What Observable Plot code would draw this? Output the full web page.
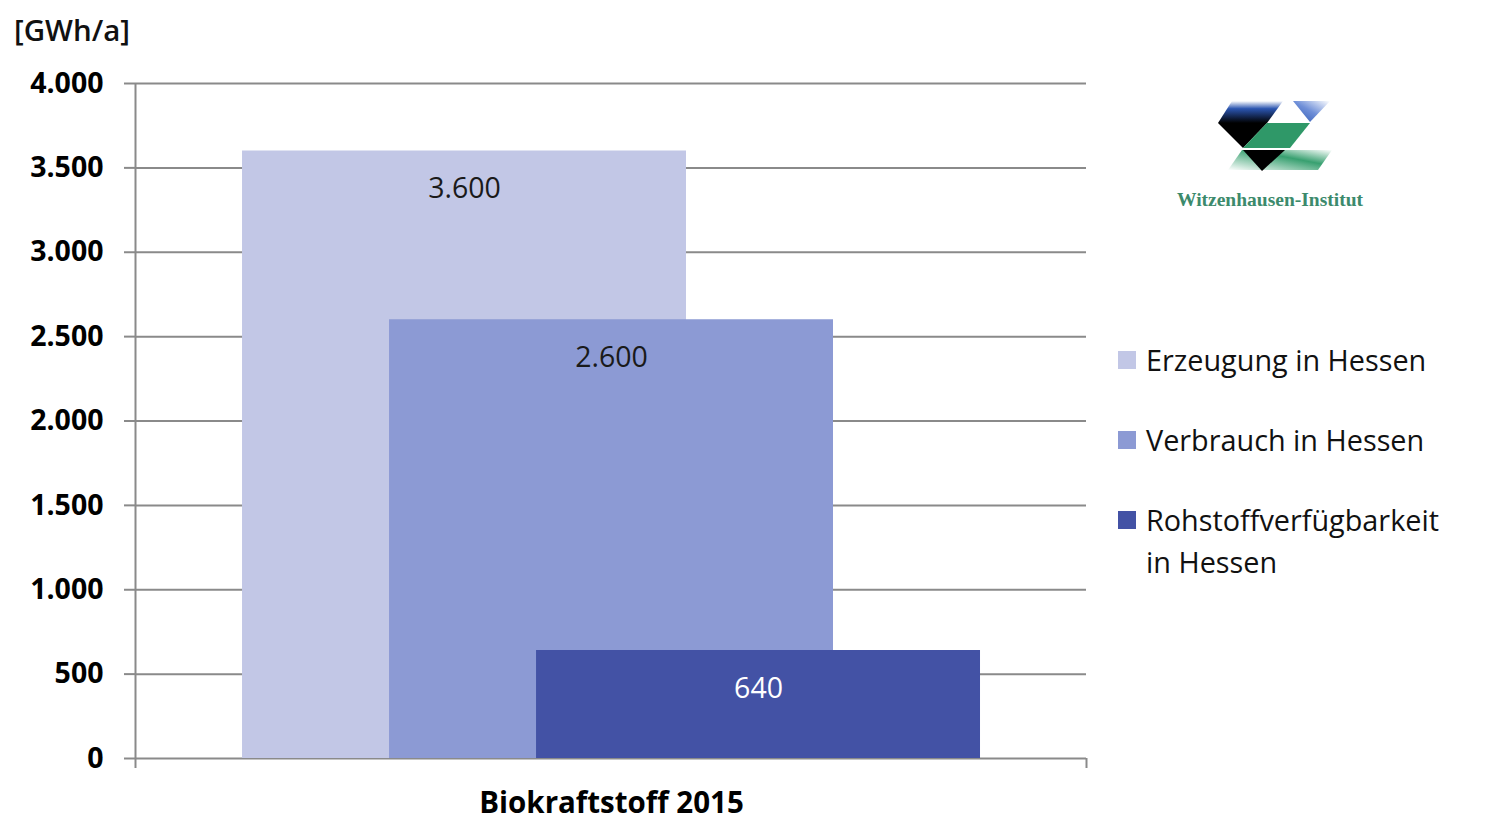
<!DOCTYPE html>
<html>
<head>
<meta charset="utf-8">
<script src="https://cdn.jsdelivr.net/npm/d3@7"></script>
<script src="https://cdn.jsdelivr.net/npm/@observablehq/plot@0.6"></script>
<style>
  html, body { margin: 0; padding: 0; background: #fff; }
  #wrap { position: relative; width: 1488px; height: 834px; overflow: hidden; font-family: "Open Sans", Lato, sans-serif; }
  #unit { position: absolute; left: 14px; top: 10px; font-size: 29.5px; color: #111; font-weight: 600; line-height: 40px; }
  #legend { position: absolute; left: 1118px; top: 339px; font-size: 28.8px; color: #111; }
  .li { position: relative; padding-left: 28px; line-height: 42px; }
  .sw { position: absolute; left: 0; top: 12px; width: 18px; height: 18px; }
  #logo { position: absolute; left: 1160px; top: 90px; }
</style>
</head>
<body>
<div id="wrap">
  <div id="chart"></div>
  <div id="unit">[GWh/a]</div>
  <div id="legend"></div>
  <svg id="logo" width="230" height="130" viewBox="1160 90 230 130">
    <defs>
      <linearGradient id="gb" x1="0" y1="0" x2="0" y2="1">
        <stop offset="0" stop-color="#ffffff"/>
        <stop offset="0.35" stop-color="#2b55b0"/>
        <stop offset="1" stop-color="#000000"/>
      </linearGradient>
      <linearGradient id="gb2" x1="1" y1="0" x2="0" y2="1">
        <stop offset="0" stop-color="#ffffff"/>
        <stop offset="0.5" stop-color="#6f8fd8"/>
        <stop offset="1" stop-color="#2d56b0"/>
      </linearGradient>
      <linearGradient id="gg" x1="1" y1="0" x2="0" y2="1">
        <stop offset="0" stop-color="#ffffff"/>
        <stop offset="0.4" stop-color="#38a070"/>
        <stop offset="1" stop-color="#ffffff"/>
      </linearGradient>
    </defs>
    <polygon points="1232,101 1283,101 1267,123 1218,123" fill="url(#gb)"/>
    <polygon points="1218,123 1267,123 1243,148" fill="#000"/>
    <polygon points="1293,101 1330,101 1310,122" fill="url(#gb2)"/>
    <polygon points="1267,123 1310,123 1290,148 1243,148" fill="#2f9868"/>
    <polygon points="1242,150 1332,150 1318,170 1228,170" fill="url(#gg)"/>
    <polygon points="1243,150 1285,150 1262,171" fill="#000"/>
    <text x="1270" y="206" text-anchor="middle" font-family="Liberation Serif, serif" font-weight="bold" font-size="19.5" fill="#3c8a6c">Witzenhausen-Institut</text>
  </svg>
</div>
<script>
// ---- data ----
const category = "Biokraftstoff 2015";
const series = ["Erzeugung in Hessen", "Verbrauch in Hessen", "Rohstoffverfügbarkeit in Hessen"];
const legendLabels = ["Erzeugung in Hessen", "Verbrauch in Hessen", "Rohstoffverfügbarkeit<br>in Hessen"];
const values = [3600, 2600, 640];
const colors = ["#c2c7e6", "#8c9ad4", "#4352a5"];
const labelColors = ["#1a1a1a", "#1a1a1a", "#ffffff"];
const yTicks = [0, 500, 1000, 1500, 2000, 2500, 3000, 3500, 4000];

// ---- layout (in series-step units) ----
const barWidth = 3.02;
const xMin = -0.728, xMax = 5.741;

const de = d3.formatLocale({decimal: ",", thousands: ".", grouping: [3], currency: ["", " €"]});
const fmt = de.format(",d");

const rows = series.map((s, i) => ({series: s, value: values[i], i, x1: i, x2: i + barWidth, xc: i + barWidth / 2}));
const center = (0 + (series.length - 1) + barWidth) / 2;

const chart = Plot.plot({
  width: 1488,
  height: 834,
  marginLeft: 135,
  marginRight: 402,
  marginTop: 83,
  marginBottom: 76,
  style: {fontFamily: "'Open Sans', Lato, sans-serif", background: "transparent"},
  x: {domain: [xMin, xMax], axis: null},
  y: {domain: [0, 4000], axis: null},
  marks: [
    Plot.ruleY(yTicks, {stroke: "#8a8a8a", strokeWidth: 2}),
    Plot.rectY(rows, {x1: "x1", x2: "x2", y1: 0, y2: "value", fill: (d) => colors[d.i]}),
    Plot.text(rows, {x: "xc", y: "value", text: (d) => fmt(d.value), dy: 38, fill: (d) => labelColors[d.i], fontSize: 28.5}),
    Plot.ruleX([xMin], {stroke: "#8a8a8a", strokeWidth: 2}),
    Plot.axisY({ticks: yTicks, label: null, tickSize: 11, tickPadding: 21, tickFormat: fmt, stroke: "#8a8a8a", strokeWidth: 2, fill: "#000", fontSize: 28.5, fontWeight: "bold"}),
    Plot.axisX({ticks: [xMin, xMax], label: null, tickSize: 10, tickFormat: () => "", stroke: "#8a8a8a", strokeWidth: 2}),
    Plot.text([category], {x: center, frameAnchor: "bottom", dy: 54, fontSize: 29.5, fontWeight: "bold", fill: "#000"})
  ]
});
document.getElementById("chart").appendChild(chart);

const legend = document.getElementById("legend");
series.forEach((s, i) => {
  const div = document.createElement("div");
  div.className = "li";
  div.style.marginBottom = "38px";
  div.innerHTML = `<span class="sw" style="background:${colors[i]}"></span>${legendLabels[i]}`;
  legend.appendChild(div);
});
</script>
</body>
</html>
